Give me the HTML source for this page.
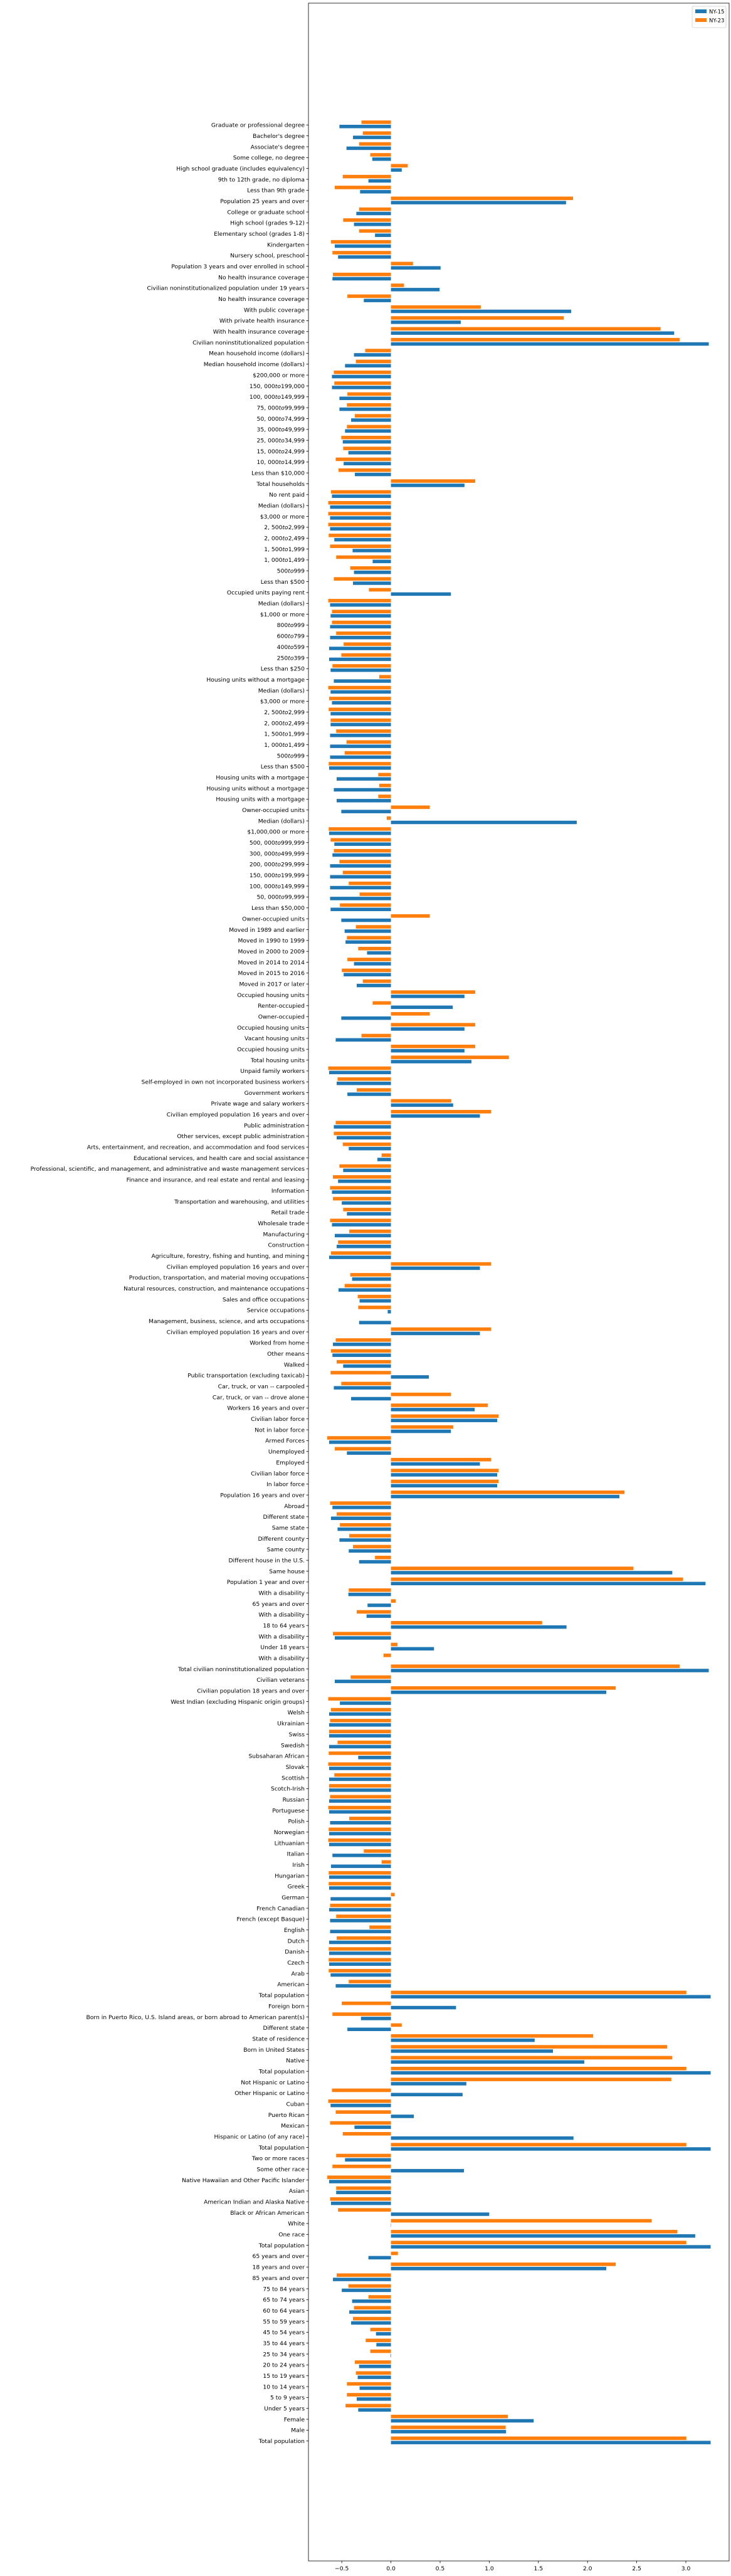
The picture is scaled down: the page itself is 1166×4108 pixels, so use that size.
<!DOCTYPE html>
<html>
<head>
<meta charset="utf-8">
<style>
  html,body{margin:0;padding:0;background:#fff;}
  svg{display:block;}
  text{font-family:"DejaVu Sans","Liberation Sans",sans-serif;}
</style>
</head>
<body>
<svg id="chart" width="1166" height="4108" viewBox="0 0 1166 4108"></svg>
<script>
const categories = [
"Graduate or professional degree","Bachelor's degree","Associate's degree","Some college, no degree","High school graduate (includes equivalency)","9th to 12th grade, no diploma","Less than 9th grade","Population 25 years and over","College or graduate school","High school (grades 9-12)","Elementary school (grades 1-8)","Kindergarten","Nursery school, preschool","Population 3 years and over enrolled in school","No health insurance coverage","Civilian noninstitutionalized population under 19 years",
"No health insurance coverage","With public coverage","With private health insurance","With health insurance coverage","Civilian noninstitutionalized population","Mean household income (dollars)","Median household income (dollars)","$200,000 or more","150,000to199,000","100,000to149,999","75,000to99,999","50,000to74,999","35,000to49,999","25,000to34,999","15,000to24,999","10,000to14,999","Less than $10,000","Total households","No rent paid","Median (dollars)","$3,000 or more",
"2,500to2,999","2,000to2,499","1,500to1,999","1,000to1,499","500to999","Less than $500","Occupied units paying rent","Median (dollars)","$1,000 or more","800to999","600to799","400to599","250to399","Less than $250","Housing units without a mortgage","Median (dollars)","$3,000 or more","2,500to2,999","2,000to2,499","1,500to1,999",
"1,000to1,499","500to999","Less than $500","Housing units with a mortgage","Housing units without a mortgage","Housing units with a mortgage","Owner-occupied units","Median (dollars)","$1,000,000 or more","500,000to999,999","300,000to499,999","200,000to299,999","150,000to199,999","100,000to149,999","50,000to99,999","Less than $50,000","Owner-occupied units","Moved in 1989 and earlier","Moved in 1990 to 1999","Moved in 2000 to 2009","Moved in 2014 to 2014",
"Moved in 2015 to 2016","Moved in 2017 or later","Occupied housing units","Renter-occupied","Owner-occupied","Occupied housing units","Vacant housing units","Occupied housing units","Total housing units","Unpaid family workers","Self-employed in own not incorporated business workers","Government workers","Private wage and salary workers","Civilian employed population 16 years and over","Public administration","Other services, except public administration","Arts, entertainment, and recreation, and accommodation and food services","Educational services, and health care and social assistance","Professional, scientific, and management, and administrative and waste management services",
"Finance and insurance, and real estate and rental and leasing","Information","Transportation and warehousing, and utilities","Retail trade","Wholesale trade","Manufacturing","Construction","Agriculture, forestry, fishing and hunting, and mining","Civilian employed population 16 years and over","Production, transportation, and material moving occupations","Natural resources, construction, and maintenance occupations","Sales and office occupations","Service occupations","Management, business, science, and arts occupations","Civilian employed population 16 years and over","Worked from home","Other means","Walked","Public transportation (excluding taxicab)",
"Car, truck, or van -- carpooled","Car, truck, or van -- drove alone","Workers 16 years and over","Civilian labor force","Not in labor force","Armed Forces","Unemployed","Employed","Civilian labor force","In labor force","Population 16 years and over","Abroad","Different state","Same state","Different county","Same county","Different house in the U.S.","Same house","Population 1 year and over",
"With a disability","65 years and over","With a disability","18 to 64 years","With a disability","Under 18 years","With a disability","Total civilian noninstitutionalized population","Civilian veterans","Civilian population 18 years and over","West Indian (excluding Hispanic origin groups)","Welsh","Ukrainian","Swiss","Swedish","Subsaharan African","Slovak","Scottish","Scotch-Irish",
"Russian","Portuguese","Polish","Norwegian","Lithuanian","Italian","Irish","Hungarian","Greek","German","French Canadian","French (except Basque)","English","Dutch","Danish","Czech","Arab","American","Total population",
"Foreign born","Born in Puerto Rico, U.S. Island areas, or born abroad to American parent(s)","Different state","State of residence","Born in United States","Native","Total population","Not Hispanic or Latino","Other Hispanic or Latino","Cuban","Puerto Rican","Mexican","Hispanic or Latino (of any race)","Total population","Two or more races","Some other race","Native Hawaiian and Other Pacific Islander","Asian","American Indian and Alaska Native",
"Black or African American","White","One race","Total population","65 years and over","18 years and over","85 years and over","75 to 84 years","65 to 74 years","60 to 64 years","55 to 59 years","45 to 54 years","35 to 44 years","25 to 34 years","20 to 24 years","15 to 19 years","10 to 14 years","5 to 9 years","Under 5 years",
"Female","Male","Total population"
];
const ny15 = [
-0.524,-0.386,-0.452,-0.19,0.11,-0.229,-0.314,1.781,-0.352,-0.376,-0.162,-0.571,-0.538,0.505,-0.595,0.495,
-0.276,1.833,0.71,2.881,3.233,-0.376,-0.467,-0.6,-0.6,-0.524,-0.524,-0.405,-0.467,-0.49,-0.433,-0.481,-0.367,0.748,-0.6,-0.619,-0.619,
-0.619,-0.576,-0.39,-0.186,-0.376,-0.386,0.61,-0.619,-0.614,-0.619,-0.619,-0.629,-0.629,-0.614,-0.581,-0.614,-0.6,-0.614,-0.614,-0.619,
-0.619,-0.619,-0.629,-0.552,-0.581,-0.552,-0.505,1.89,-0.629,-0.576,-0.595,-0.619,-0.619,-0.619,-0.619,-0.614,-0.505,-0.471,-0.462,-0.243,-0.376,
-0.481,-0.348,0.748,0.629,-0.505,0.748,-0.562,0.748,0.819,-0.629,-0.552,-0.443,0.633,0.905,-0.581,-0.552,-0.429,-0.138,-0.486,
-0.538,-0.6,-0.5,-0.448,-0.6,-0.571,-0.552,-0.629,0.905,-0.395,-0.533,-0.319,-0.033,-0.324,0.905,-0.59,-0.595,-0.486,0.386,
-0.581,-0.405,0.852,1.081,0.61,-0.629,-0.448,0.905,1.081,1.081,2.324,-0.595,-0.61,-0.543,-0.524,-0.429,-0.324,2.862,3.2,
-0.433,-0.238,-0.248,1.786,-0.571,0.438,0,3.233,-0.571,2.19,-0.519,-0.629,-0.629,-0.629,-0.629,-0.333,-0.629,-0.629,-0.629,
-0.629,-0.629,-0.619,-0.629,-0.629,-0.595,-0.61,-0.629,-0.629,-0.614,-0.629,-0.619,-0.619,-0.629,-0.629,-0.629,-0.614,-0.562,3.252,
0.662,-0.305,-0.443,1.462,1.648,1.967,3.252,0.767,0.729,-0.614,0.233,-0.371,1.857,3.252,-0.467,0.743,-0.629,-0.557,-0.61,
1.0,0.003,3.095,3.252,-0.229,2.19,-0.59,-0.5,-0.395,-0.424,-0.405,-0.152,-0.148,-0.005,-0.324,-0.338,-0.319,-0.348,-0.333,
1.452,1.171,3.252
];
const ny23 = [
-0.30,-0.286,-0.324,-0.21,0.171,-0.49,-0.571,1.852,-0.324,-0.486,-0.324,-0.61,-0.595,0.224,-0.59,0.133,
-0.443,0.914,1.757,2.743,2.938,-0.262,-0.357,-0.581,-0.576,-0.443,-0.448,-0.367,-0.448,-0.505,-0.486,-0.562,-0.533,0.857,-0.61,-0.638,-0.638,
-0.638,-0.633,-0.619,-0.557,-0.414,-0.581,-0.224,-0.638,-0.6,-0.6,-0.557,-0.481,-0.505,-0.595,-0.119,-0.638,-0.629,-0.633,-0.614,-0.557,
-0.452,-0.471,-0.633,-0.129,-0.119,-0.129,0.395,-0.043,-0.633,-0.614,-0.581,-0.524,-0.49,-0.429,-0.319,-0.519,0.395,-0.357,-0.448,-0.333,-0.443,
-0.5,-0.286,0.857,-0.186,0.395,0.857,-0.3,0.857,1.2,-0.638,-0.543,-0.348,0.614,1.019,-0.562,-0.581,-0.49,-0.095,-0.524,
-0.59,-0.619,-0.59,-0.486,-0.619,-0.424,-0.538,-0.61,1.019,-0.414,-0.471,-0.338,-0.333,0,1.019,-0.562,-0.61,-0.552,-0.614,
-0.505,0.61,0.986,1.095,0.633,-0.648,-0.571,1.019,1.095,1.095,2.376,-0.619,-0.552,-0.519,-0.424,-0.386,-0.162,2.467,2.971,
-0.429,0.048,-0.348,1.538,-0.59,0.067,-0.076,2.938,-0.41,2.286,-0.638,-0.61,-0.619,-0.629,-0.543,-0.633,-0.638,-0.576,-0.629,
-0.619,-0.638,-0.424,-0.633,-0.638,-0.276,-0.095,-0.633,-0.633,0.038,-0.619,-0.557,-0.219,-0.552,-0.633,-0.633,-0.633,-0.429,3.005,
-0.5,-0.595,0.11,2.057,2.81,2.862,3.005,2.852,-0.6,-0.638,-0.562,-0.619,-0.49,3.005,-0.557,-0.595,-0.648,-0.557,-0.619,
-0.538,2.652,2.914,3.005,0.071,2.286,-0.552,-0.433,-0.229,-0.376,-0.386,-0.21,-0.257,-0.21,-0.367,-0.357,-0.448,-0.448,-0.462,
1.19,1.167,3.005
];
const xTicks = [-0.5, 0.0, 0.5, 1.0, 1.5, 2.0, 2.5, 3.0];
const seriesNames = ["NY-15", "NY-23"];

const NS = "http://www.w3.org/2000/svg";
const svg = document.getElementById("chart");
const L = 492, R = 1163, T = 5, B = 4084;
const xMin = -0.839, xMax = 3.44;
const firstY = 199.3, stepY = 17.34;
function xs(v){ return L + (v - xMin) / (xMax - xMin) * (R - L); }
function ys(i){ return firstY + i * stepY; }
function mk(tag, attrs){ const e = document.createElementNS(NS, tag); for (const k in attrs) e.setAttribute(k, attrs[k]); svg.appendChild(e); return e; }

const x0 = xs(0);
for (let i = 0; i < categories.length; i++) {
  const c = ys(i);
  const vo = ny23[i];
  const ro = mk("rect", {x: Math.min(x0, xs(vo)), y: c - 7.2, width: Math.abs(xs(vo) - x0), height: 5.6, fill: "#ff7f0e"});
  
  
  const vb = ny15[i];
  const rb = mk("rect", {x: Math.min(x0, xs(vb)), y: c - 0.3, width: Math.abs(xs(vb) - x0), height: 5.5, fill: "#1f77b4"});
  
  
  const tk = mk("line", {x1: L - 3.5, x2: L, y1: c, y2: c, stroke: "#000", "stroke-width": 0.8});
  
  
  const t = mk("text", {x: L - 6, y: c + 3.3, "text-anchor": "end", "font-size": "9.2", fill: "#000"});
  
  
  const lab = categories[i];
  const m = lab.match(/^([\d,]+)to([\d,]+)$/);
  if (m) {
    const a = document.createElementNS(NS, "tspan"); a.textContent = m[1].replace(/,/, ", "); t.appendChild(a);
    const b = document.createElementNS(NS, "tspan"); b.textContent = "to"; b.setAttribute("font-style", "italic"); t.appendChild(b);
    const d = document.createElementNS(NS, "tspan"); d.textContent = m[2]; t.appendChild(d);
  } else {
    t.textContent = lab;
  }
}

const frame = mk("rect", {x: L, y: T, width: R - L, height: B - T, fill: "none", stroke: "#000", "stroke-width": 0.8});



for (const v of xTicks) {
  const x = xs(v);
  const tl = mk("line", {x1: x, x2: x, y1: B, y2: B + 3.5, stroke: "#000", "stroke-width": 0.8});
  
  
  const tt = mk("text", {x: x, y: B + 15, "text-anchor": "middle", "font-size": "9.2", fill: "#000"});
  
  
  tt.textContent = (v < 0 ? "\u2212" : "") + Math.abs(v).toFixed(1);
}

// legend
const lg = mk("rect", {x: 1104, y: 10, width: 54, height: 34, fill: "#fff", stroke: "#ccc", "stroke-width": 0.8, rx: 2});


const colors = ["#1f77b4", "#ff7f0e"];
for (let k = 0; k < seriesNames.length; k++) {
  const sw = mk("rect", {x: 1109, y: 15 + k * 14, width: 18, height: 6, fill: colors[k]});
  
  
  const lt = mk("text", {x: 1131, y: 21.5 + k * 14, "font-size": "8.5", fill: "#000"});
  
  
  lt.textContent = seriesNames[k];
}
</script>
</body>
</html>
